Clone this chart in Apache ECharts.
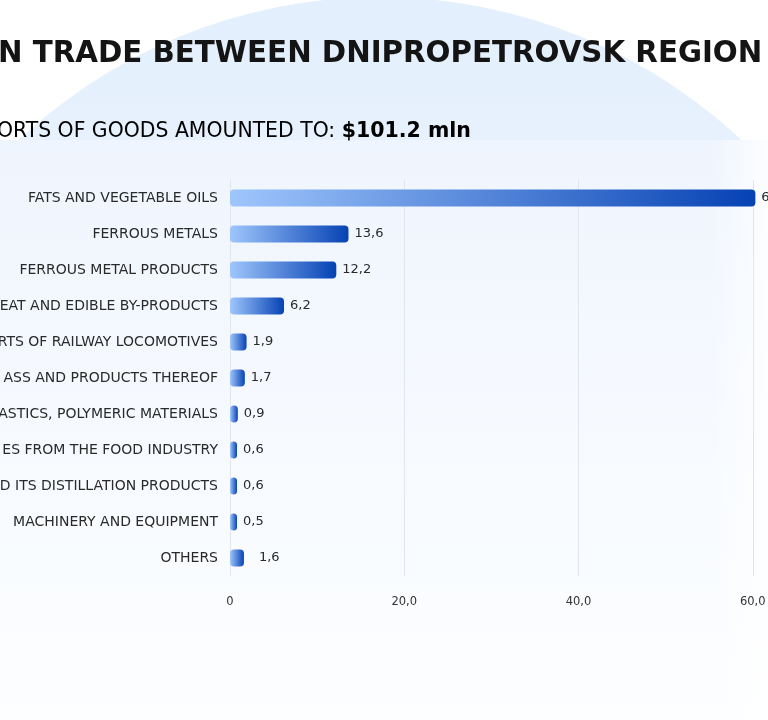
<!DOCTYPE html>
<html>
<head>
<meta charset="utf-8">
<script src="https://cdn.jsdelivr.net/npm/echarts@6/dist/echarts.min.js"></script>
<style>
  html, body { margin: 0; padding: 0; background: #fff; overflow: hidden; width: 768px; height: 720px; }
  #chart { width: 1000px; height: 720px; }
</style>
</head>
<body>
<div id="chart"></div>
<script>
// categories top to bottom (as they appear, left part is cut off in the picture)
var categories = [
    'FATS AND VEGETABLE OILS',
    'FERROUS METALS',
    'FERROUS METAL PRODUCTS',
    'EAT AND EDIBLE BY-PRODUCTS',
    'RTS OF RAILWAY LOCOMOTIVES',
    'ASS AND PRODUCTS THEREOF',
    'ASTICS, POLYMERIC MATERIALS',
    'ES FROM THE FOOD INDUSTRY',
    'D ITS DISTILLATION PRODUCTS',
    'MACHINERY AND EQUIPMENT',
    'OTHERS'
];
var values = [60.3, 13.6, 12.2, 6.2, 1.9, 1.7, 0.9, 0.6, 0.6, 0.5, 1.6];

var titleText = 'N TRADE BETWEEN DNIPROPETROVSK REGION';
var subText = 'ORTS OF GOODS AMOUNTED TO: ';
var totalText = '$101.2 mln';

var fmt = function (v) {
    return v === 0 ? '0' : v.toFixed(1).replace('.', ',');
};

var myChart = echarts.init(document.getElementById('chart'));

var barData = [];
for (var i = 0; i < values.length; i++) {
    var item = { value: values[i] };
    if (categories[i] === 'OTHERS') {
        item.label = { distance: 15 };
    }
    barData.push(item);
}

var option = {
    animation: false,
    textStyle: { fontFamily: 'DejaVu Sans' },
    graphic: {
        elements: [
            {
                type: 'circle',
                z: -20,
                shape: { cx: 380, cy: 525, r: 528 },
                style: {
                    fill: new echarts.graphic.LinearGradient(0, 0, 0, 1, [
                        { offset: 0, color: '#e3effd' },
                        { offset: 0.3, color: '#ecf4fe' },
                        { offset: 1, color: '#f3f8ff' }
                    ])
                }
            },
            {
                type: 'rect',
                z: -19,
                shape: { x: -20, y: 140, width: 1040, height: 600 },
                style: {
                    fill: new echarts.graphic.LinearGradient(0, 0, 0, 1, [
                        { offset: 0, color: '#eff5fe' },
                        { offset: 0.6, color: '#f8fbff' },
                        { offset: 1, color: '#fdfeff' }
                    ])
                }
            },
            {
                type: 'rect',
                z: -18,
                shape: { x: 710, y: 140, width: 300, height: 600 },
                style: {
                    fill: new echarts.graphic.LinearGradient(0, 0, 1, 0, [
                        { offset: 0, color: 'rgba(255,255,255,0)' },
                        { offset: 0.2, color: 'rgba(255,255,255,0.85)' },
                        { offset: 1, color: 'rgba(255,255,255,1)' }
                    ])
                }
            },
            {
                type: 'text',
                z: 10,
                left: -2,
                top: 40,
                style: {
                    text: titleText,
                    fill: '#141414',
                    font: 'bold 29.3px "DejaVu Sans"'
                }
            },
            {
                type: 'text',
                z: 10,
                left: -3,
                top: 121,
                style: {
                    text: '{a|' + subText + '}{b|' + totalText + '}',
                    rich: {
                        a: { fontSize: 20.4, color: '#222', fontFamily: 'DejaVu Sans', verticalAlign: 'bottom' },
                        b: { fontSize: 20.5, fontWeight: 'bold', color: '#111', fontFamily: 'DejaVu Sans', verticalAlign: 'bottom' }
                    }
                }
            }
        ]
    },
    grid: {
        left: 230,
        right: 73,
        top: 180,
        bottom: 144,
        containLabel: false,
        outerBoundsMode: 'none'
    },
    xAxis: {
        type: 'value',
        min: 0,
        max: 80,
        interval: 20,
        axisLine: { show: false },
        axisTick: { show: false },
        axisLabel: {
            color: '#333',
            fontSize: 11.5,
            margin: 20,
            formatter: fmt
        },
        splitLine: { lineStyle: { color: '#e1e5ec', width: 1 } }
    },
    yAxis: {
        type: 'category',
        inverse: true,
        data: categories,
        axisLine: { show: false },
        axisTick: { show: false },
        axisLabel: {
            color: '#2a2a2a',
            fontSize: 14,
            margin: 12
        }
    },
    series: [
        {
            type: 'bar',
            data: barData,
            barWidth: 17,
            barMinHeight: 7,
            itemStyle: {
                borderRadius: 4,
                color: new echarts.graphic.LinearGradient(0, 0, 1, 0, [
                    { offset: 0, color: '#9fc6fc' },
                    { offset: 1, color: '#0642b4' }
                ])
            },
            label: {
                show: true,
                position: 'right',
                distance: 6,
                color: '#2a2a2a',
                fontSize: 13,
                formatter: function (p) { return fmt(p.value); }
            }
        }
    ]
};

myChart.setOption(option);
window.addEventListener('resize', function () {
    myChart.resize();
});
</script>
</body>
</html>
